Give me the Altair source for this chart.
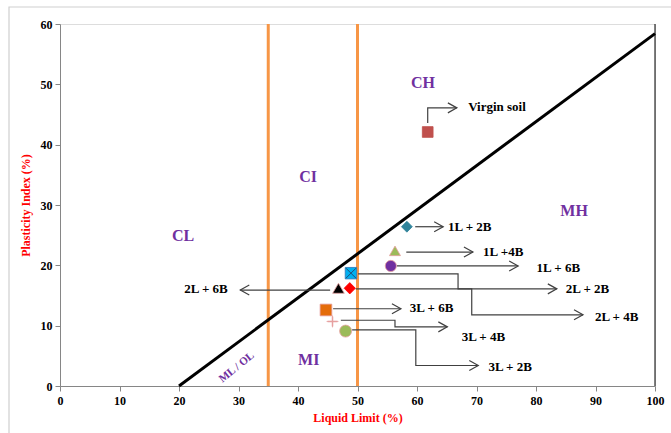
import altair as alt
import pandas as pd

# ---------------- data ----------------
mix = ["Virgin soil", "1L + 2B", "1L +4B", "1L + 6B", "2L + 2B",
       "2L + 4B", "2L + 6B", "3L + 6B", "3L + 4B", "3L + 2B"]
liquid_limit = [61.8, 58.3, 56.3, 55.6, 48.7, 48.9, 46.8, 44.7, 45.8, 48.0]
plasticity_index = [42.1, 26.4, 22.4, 19.9, 16.2, 18.7, 16.2, 12.6, 10.7, 9.1]

# label positions (data units) for each mix
label_x = [68.6, 65.2, 71.1, 80.1, 85.0, 89.9, 28.2, 58.8, 67.5, 72.0]
label_y = [46.2, 26.4, 22.2, 19.6, 16.1, 11.4, 16.1, 12.9, 8.1, 3.2]

# leader lines (data units), one polyline per mix, ending at the arrow tip
leader_paths = {
    "Virgin soil": [(61.8, 43.6), (61.8, 46.1), (66.7, 46.1)],
    "1L + 2B": [(59.7, 26.4), (64.4, 26.4)],
    "1L +4B": [(58.2, 22.2), (69.4, 22.2)],
    "1L + 6B": [(56.6, 19.9), (77.0, 19.9)],
    "2L + 2B": [(49.7, 16.1), (83.5, 16.1)],
    "2L + 4B": [(50.1, 18.6), (66.9, 18.6), (66.9, 16.1), (69.2, 16.1),
                (69.2, 11.8), (87.9, 11.8)],
    "2L + 6B": [(45.4, 15.9), (30.3, 15.9)],
    "3L + 6B": [(45.9, 12.8), (57.3, 12.8)],
    "3L + 4B": [(47.2, 10.9), (56.3, 10.9), (56.3, 9.8), (65.1, 9.8)],
    "3L + 2B": [(49.1, 9.3), (59.8, 9.3), (59.8, 3.4), (70.3, 3.4)],
}

# A-line and liquid-limit boundaries
a_line_ll = [20, 100]
a_line_pi = [0, 58.4]
ll_boundaries = [35, 50]

# zone names
zone_name = ["CH", "CI", "CL", "MH", "MI"]
zone_ll = [61.0, 41.7, 20.7, 86.4, 41.8]
zone_pi = [50.2, 34.6, 24.9, 29.0, 4.3]

# ---------------- build tables ----------------
pts = pd.DataFrame({"mix": mix, "ll": liquid_limit, "pi": plasticity_index})
labels = pd.DataFrame({"mix": mix, "lx": label_x, "ly": label_y,
                       "align": ["right" if m == "2L + 6B" else "left" for m in mix]})
rows, tips = [], []
for name, path in leader_paths.items():
    for i, (x, y) in enumerate(path):
        rows.append({"path": name, "seq": i, "x": x, "y": y})
    (x0, _), (x1, y1) = path[-2], path[-1]
    tips.append({"x": x1, "y": y1, "dir": "left" if x1 < x0 else "right"})
leaders = pd.DataFrame(rows)
arrow_tips = pd.DataFrame(tips)
aline = pd.DataFrame({"ll": a_line_ll, "pi": a_line_pi})
bounds = pd.DataFrame({"ll": ll_boundaries})
zones = pd.DataFrame({"name": zone_name, "ll": zone_ll, "pi": zone_pi})

# ---------------- styling ----------------
FONT = "Liberation Serif"
GREY = "#868686"
x_axis = alt.Axis(values=list(range(0, 101, 10)), title="Liquid Limit (%)", grid=False,
                  labelFont=FONT, labelFontWeight="bold", labelFontSize=12, labelColor="#000000",
                  labelFlush=False, labelPadding=4, tickColor=GREY, domainColor=GREY, tickSize=5,
                  titleFont=FONT, titleFontWeight="bold", titleFontSize=12, titleColor="#FF0000",
                  titlePadding=6)
y_axis = alt.Axis(values=list(range(0, 61, 10)), title="Plasticity Index (%)", grid=False,
                  labelFont=FONT, labelFontWeight="bold", labelFontSize=12, labelColor="#000000",
                  labelFlush=False, labelPadding=3, tickColor=GREY, domainColor=GREY, tickSize=5,
                  titleFont=FONT, titleFontWeight="bold", titleFontSize=12, titleColor="#FF0000",
                  titlePadding=8)
xs = alt.Scale(domain=[0, 100], nice=False, zero=False)
ys = alt.Scale(domain=[0, 60], nice=False, zero=False)


def X(f):
    return alt.X(f, type="quantitative", scale=xs, axis=x_axis)


def Y(f):
    return alt.Y(f, type="quantitative", scale=ys, axis=y_axis)


shape_range = ["square", "diamond", "triangle-up", "circle", "diamond",
               "square", "triangle-up", "square", "M-1,0L1,0M0,-1L0,1", "circle"]
fill_range = ["#C0504D", "#31849B", "#9BBB59", "#7030A0", "#FF0000",
              "#00B0F0", "#000000", "#E46C0A", "#E6A0A0", "#9BBB59"]
stroke_range = ["#C0504D", "#31849B", "#E6A0A0", "#E6A0A0", "#FF0000",
                "#2E75B6", "#E6A0A0", "#E6A0A0", "#E6A0A0", "#E6A0A0"]
size_range = [115, 144, 169, 121, 94, 100, 121, 121, 100, 121]

# ---------------- layers ----------------
frame = alt.Chart(pd.DataFrame({"k": [0]})).mark_rect(
    fillOpacity=0, stroke="#CFCFCF", strokeWidth=1.2
).encode(x=alt.value(-51), x2=alt.value(640), y=alt.value(-17), y2=alt.value(440))

boundary_rules = alt.Chart(bounds).mark_rule(color="#F79646", strokeWidth=3).encode(x=X("ll"))

a_line = alt.Chart(aline).mark_line(color="#000000", strokeWidth=3).encode(x=X("ll"), y=Y("pi"))

right_border = alt.Chart(pd.DataFrame({"ll": [100]})).mark_rule(
    color="#000000", strokeWidth=1).encode(x=X("ll"))

leader_lines = alt.Chart(leaders).mark_line(color="#404040", strokeWidth=1.2).encode(
    x=X("x"), y=Y("y"), detail="path:N", order="seq:Q")

arrows_right = alt.Chart(arrow_tips).transform_filter(alt.datum.dir == "right").mark_point(
    shape="M-1.8,-1L0,0L-1.8,1", filled=False, strokeWidth=1.2, size=100, color="#404040", opacity=1
).encode(x=X("x"), y=Y("y"))

arrows_left = alt.Chart(arrow_tips).transform_filter(alt.datum.dir == "left").mark_point(
    shape="M1.8,-1L0,0L1.8,1", filled=False, strokeWidth=1.2, size=100, color="#404040", opacity=1
).encode(x=X("x"), y=Y("y"))

markers = alt.Chart(pts).mark_point(filled=True, opacity=1, strokeWidth=0.8).encode(
    x=X("ll"), y=Y("pi"),
    shape=alt.Shape("mix:N", scale=alt.Scale(domain=mix, range=shape_range), legend=None),
    fill=alt.Fill("mix:N", scale=alt.Scale(domain=mix, range=fill_range), legend=None),
    stroke=alt.Stroke("mix:N", scale=alt.Scale(domain=mix, range=stroke_range), legend=None),
    size=alt.Size("mix:N", scale=alt.Scale(domain=mix, range=size_range), legend=None),
)

cross_overlay = alt.Chart(pts).transform_filter(alt.datum.mix == "2L + 4B").mark_point(
    shape="M-1,-1L1,1M-1,1L1,-1", filled=False, color="#1F4E79", strokeWidth=1, size=100, opacity=1
).encode(x=X("ll"), y=Y("pi"))

plus_overlay = alt.Chart(pts).transform_filter(alt.datum.mix == "3L + 4B").mark_point(
    shape="M-1,0L1,0M0,-1L0,1", filled=False, color="#E6A0A0", strokeWidth=1.5, size=100, opacity=1
).encode(x=X("ll"), y=Y("pi"))

text_left = alt.Chart(labels).transform_filter(alt.datum.align == "left").mark_text(
    align="left", baseline="middle", font=FONT, fontWeight="bold", fontSize=13, color="#000000"
).encode(x=X("lx"), y=Y("ly"), text="mix:N")

text_right = alt.Chart(labels).transform_filter(alt.datum.align == "right").mark_text(
    align="right", baseline="middle", font=FONT, fontWeight="bold", fontSize=13, color="#000000"
).encode(x=X("lx"), y=Y("ly"), text="mix:N")

zone_text = alt.Chart(zones).mark_text(
    align="center", baseline="middle", font=FONT, fontWeight="bold", fontSize=16, color="#7030A0"
).encode(x=X("ll"), y=Y("pi"), text="name:N")

ml_text = alt.Chart(pd.DataFrame({"name": ["ML / OL"], "ll": [29.7], "pi": [3.1]})).mark_text(
    align="center", baseline="middle", font=FONT, fontWeight="bold", fontSize=11,
    color="#7030A0", angle=321
).encode(x=X("ll"), y=Y("pi"), text="name:N")

chart = alt.layer(
    frame, boundary_rules, a_line, right_border, leader_lines, arrows_right, arrows_left,
    markers, cross_overlay, plus_overlay, text_left, text_right, zone_text, ml_text
).properties(
    width=595, height=362,
    autosize=alt.AutoSizeParams(type="none"),
    padding={"left": 60, "top": 24, "right": 16, "bottom": 47},
).configure_view(
    stroke=GREY, strokeWidth=1
).configure(background="#FFFFFF")

chart.save("out.html", embed_options={"renderer": "svg", "actions": False})
